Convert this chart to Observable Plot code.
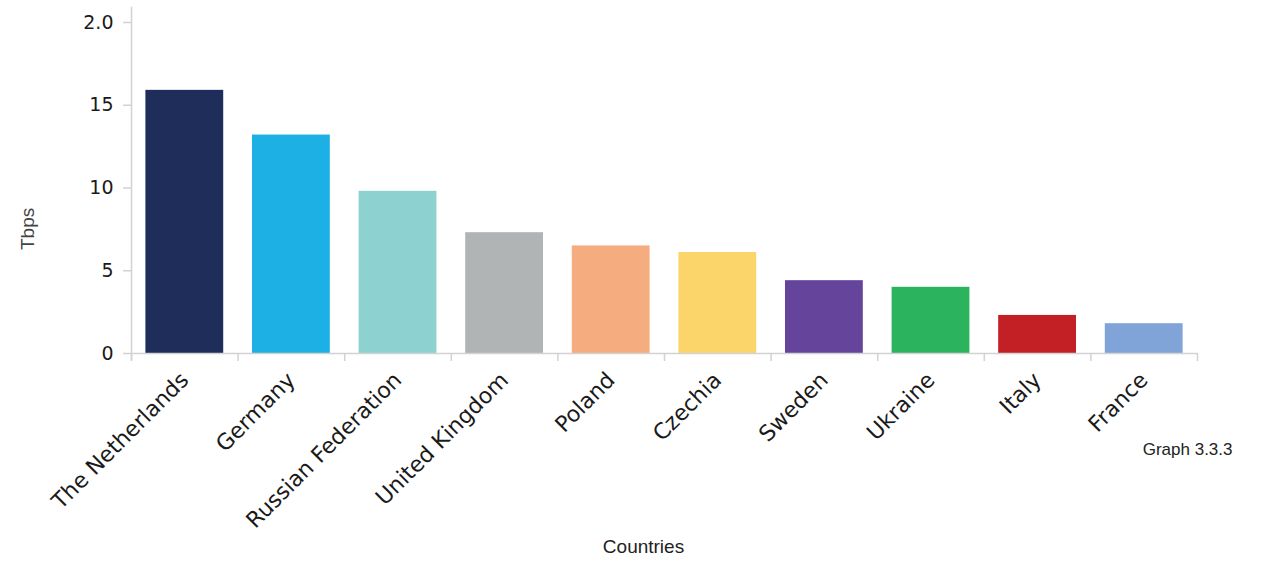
<!DOCTYPE html>
<html><head><meta charset="utf-8">
<script src="https://cdn.jsdelivr.net/npm/d3@7"></script>
<script src="https://cdn.jsdelivr.net/npm/@observablehq/plot@0.6"></script>
<style>body{margin:0;background:#fff}</style>
</head><body><div id="chart"></div>
<script>
const countries = ["The Netherlands","Germany","Russian Federation","United Kingdom","Poland","Czechia","Sweden","Ukraine","Italy","France"];
const values = [15.9, 13.2, 9.8, 7.3, 6.5, 6.1, 4.4, 4.0, 2.3, 1.8];
const colors = ["#1e2d5a","#1cb0e4","#8dd2d1","#b1b4b5","#f5ad80","#fbd56a","#65449b","#2cb35e","#c32026","#80a4d7"];
const yTicks = [0, 5, 10, 15, 20];
const yTickLabels = ["0", "5", "10", "15", "2.0"];
const yLabel = "Tbps";
const xLabel = "Countries";
const caption = "Graph 3.3.3";

const data = countries.map((c, i) => ({country: c, value: values[i]}));

const W = 1264, H = 564, ML = 131, MR = 67, MT = 22, MB = 211;
const step = (W - ML - MR) / countries.length;
const axisGray = "#d2d2d2";
const tickFont = "DejaVu Sans, sans-serif";

const chart = Plot.plot({
  width: W, height: H,
  marginLeft: ML, marginRight: MR, marginTop: MT, marginBottom: MB,
  style: {background: "#fff", fontFamily: tickFont},
  x: {domain: countries, paddingInner: 0.27, paddingOuter: 0.135, round: false, label: null},
  y: {domain: [0, 20], label: null},
  color: {domain: countries, range: colors},
  marks: [
    Plot.barY(data, {x: "country", y: "value", fill: "country"}),
    Plot.frame({anchor: "left", stroke: axisGray, strokeWidth: 1.5, insetTop: -15, insetBottom: -6}),
    Plot.ruleY([0], {stroke: axisGray, strokeWidth: 1.5}),
    Plot.axisY({ticks: yTicks, tickFormat: d => yTickLabels[yTicks.indexOf(d)], tickSize: 8, tickPadding: 10,
      stroke: axisGray, strokeWidth: 1.5, strokeOpacity: 1, fontSize: 19, fill: "#1a1a1a", label: null}),
    Plot.axisX({ticks: countries, tickSize: 8, text: null, dx: -step / 2, stroke: axisGray, strokeWidth: 1.5, strokeOpacity: 1, label: null}),
    Plot.axisX({ticks: [countries[countries.length - 1]], tickSize: 8, text: null, dx: step / 2, stroke: axisGray, strokeWidth: 1.5, strokeOpacity: 1, label: null}),
    Plot.axisX({ticks: countries, tickSize: 0, tickPadding: 23, tickRotate: -45, fontSize: 22, fill: "#1a1a1a", label: null}),
    Plot.text([yLabel], {frameAnchor: "left", dx: -104, dy: 62, rotate: -90, fontSize: 19, fill: "#444", fontFamily: "Liberation Sans, sans-serif"}),
    Plot.text([xLabel], {frameAnchor: "bottom", dx: -21, dy: 199, fontSize: 19, fill: "#222", fontFamily: "Liberation Sans, sans-serif"}),
    Plot.text([caption], {frameAnchor: "bottom-right", dx: 35, dy: 101, textAnchor: "end", fontSize: 17, fill: "#222", fontFamily: "Liberation Sans, sans-serif"})
  ]
});
document.getElementById("chart").append(chart);
</script>
</body></html>
